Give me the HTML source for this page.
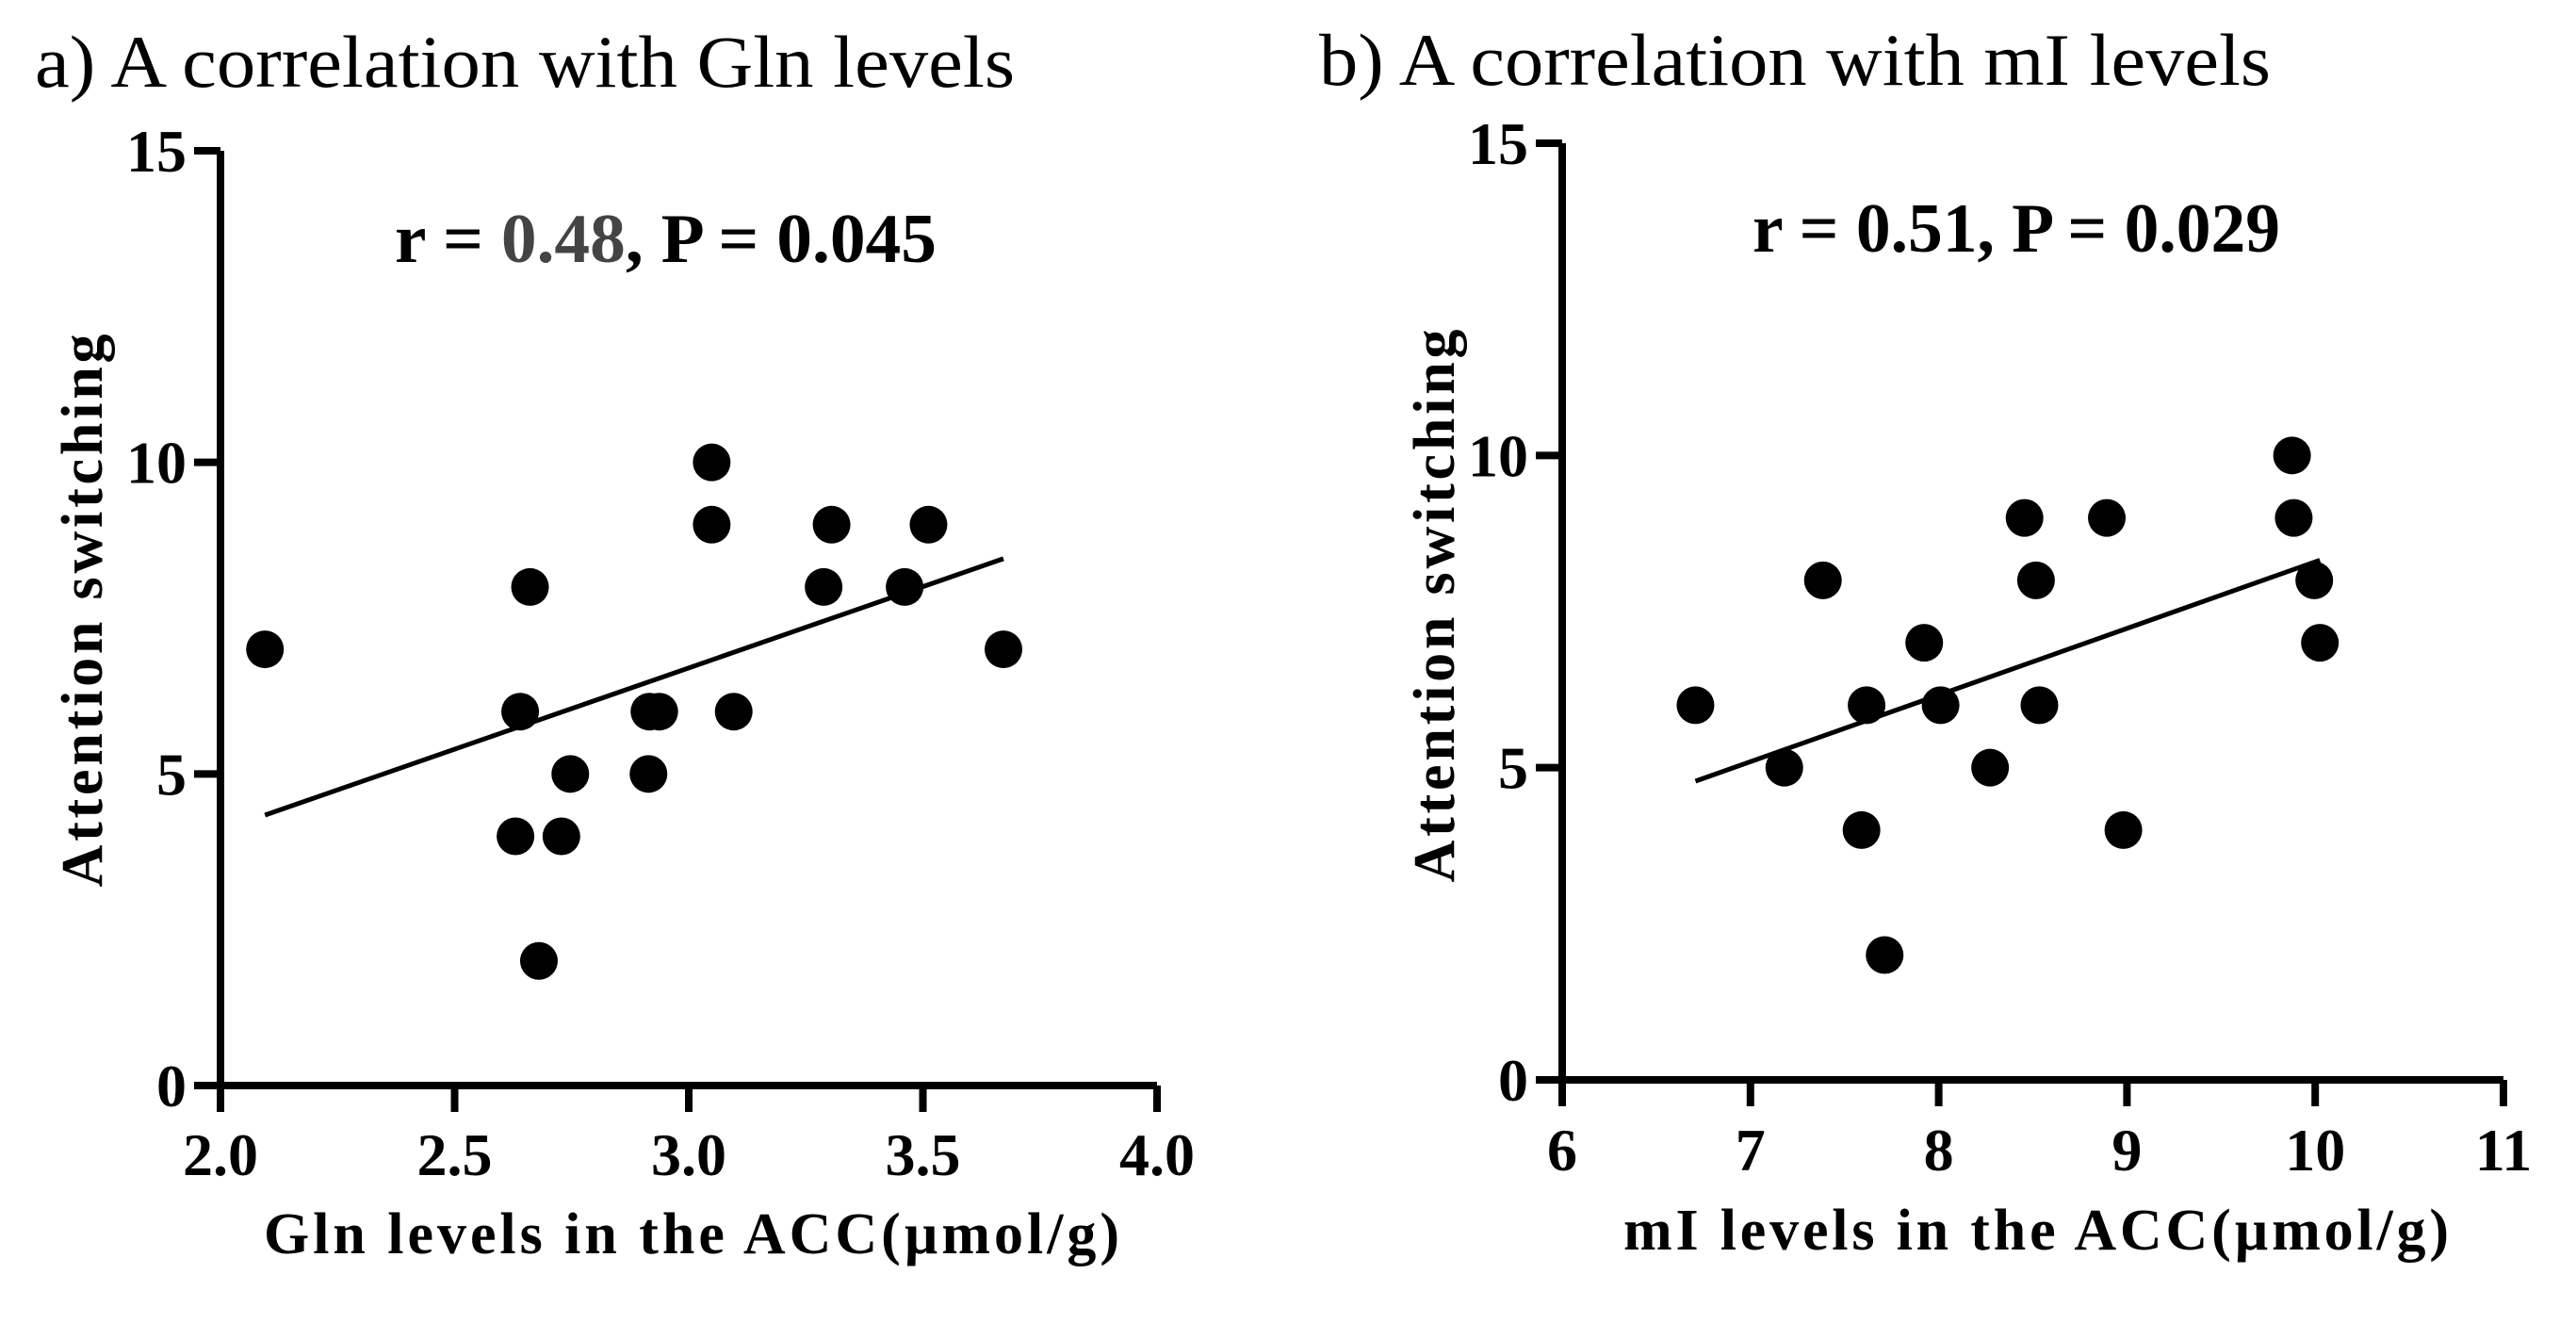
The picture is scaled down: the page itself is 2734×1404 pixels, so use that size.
<!DOCTYPE html>
<html><head><meta charset="utf-8"><style>
html,body{margin:0;padding:0;background:#fff;}
svg{display:block;font-family:"Liberation Serif",serif;}
</style></head><body>
<svg id="fig" width="2734" height="1404" viewBox="0 0 2734 1404" xmlns="http://www.w3.org/2000/svg">
<rect width="2734" height="1404" fill="#fff"/>
<g id="panelA"></g>
<g id="panelB"></g>
</svg>
<script>
const glnX = [2.095,2.661,2.640,2.630,2.728,2.747,2.680,2.914,2.916,2.937,3.049,3.049,3.096,3.288,3.305,3.461,3.512,3.672];
const glnY = [7,8,6,4,4,5,2,5,6,6,10,9,6,8,9,8,9,7];
const miX = [6.708,7.180,7.385,7.590,7.617,7.713,7.923,8.010,8.273,8.456,8.517,8.535,8.893,8.981,9.877,9.886,9.995,10.025];
const miY = [6,5,8,4,6,2,7,6,5,9,8,6,9,4,10,9,8,7];
const glnTicks = ["2.0","2.5","3.0","3.5","4.0"];
const glnTickVals = [2.0,2.5,3.0,3.5,4.0];
const miTicks = ["6","7","8","9","10","11"];
const miTickVals = [6,7,8,9,10,11];
const yTickVals = [0,5,10,15];
const yTicks = ["0","5","10","15"];

const NS="http://www.w3.org/2000/svg";
function mk(parent,tag,attrs,text){const e=document.createElementNS(NS,tag);for(const k in attrs)e.setAttribute(k,attrs[k]);if(text!==undefined)e.textContent=text;parent.appendChild(e);return e;}

function panel(g,cfg){
  const sx=v=>cfg.x0+(v-cfg.xmin)/(cfg.xmax-cfg.xmin)*(cfg.x1-cfg.x0);
  const sy=v=>cfg.y0-(v-0)/15*(cfg.y0-cfg.y1);
  // title
  const t=mk(g,'text',{x:cfg.titleX,y:cfg.titleY,'font-size':78,textLength:cfg.titleLen,lengthAdjust:'spacingAndGlyphs'},cfg.title);
  
  
  // axes
  const ax=mk(g,'path',{d:`M${cfg.x0} ${cfg.y1} V${cfg.y0} H${cfg.x1}`,stroke:'#000','stroke-width':8,fill:'none'});
  
  
  cfg.yVals.forEach((v,i)=>{
    const y=sy(v);
    const tk=mk(g,'line',{x1:cfg.x0-28,x2:cfg.x0,y1:y,y2:y,stroke:'#000','stroke-width':8});
    
    
    const lb=mk(g,'text',{x:cfg.x0-36,y:y+22,'font-size':64,'font-weight':'bold','text-anchor':'end'},cfg.yLabels[i]);
    
    
  });
  cfg.xVals.forEach((v,i)=>{
    const x=sx(v);
    const tk=mk(g,'line',{x1:x,x2:x,y1:cfg.y0,y2:cfg.y0+28,stroke:'#000','stroke-width':8});
    
    
    const lb=mk(g,'text',{x:x,y:cfg.tickBase,'font-size':64,'font-weight':'bold','text-anchor':'middle'},cfg.xLabels[i]);
    
    
  });
  // axis titles
  const xt=mk(g,'text',{x:cfg.xtX,y:cfg.xtY,'font-size':62,'font-weight':'bold',textLength:cfg.xtLen,lengthAdjust:'spacing'},cfg.xTitle);
  
  
  const yt=mk(g,'text',{x:0,y:0,'font-size':62,'font-weight':'bold','text-anchor':'middle',textLength:587,lengthAdjust:'spacing',transform:`translate(${cfg.ytX},${cfg.ytY}) rotate(-90)`},'Attention switching');
  
  
  // annotation
  const an=mk(g,'text',{x:cfg.anX,y:cfg.anY,'font-size':74,'font-weight':'bold',textLength:cfg.anLen,lengthAdjust:'spacingAndGlyphs'});
  
  
  mk(an,'tspan',{},'r = ');
  mk(an,'tspan',{fill:cfg.rColor},cfg.r);
  mk(an,'tspan',{},', P = '+cfg.p);
  // regression
  const xs=cfg.xs, ys=cfg.ys, n=xs.length;
  const mx=xs.reduce((a,b)=>a+b,0)/n, my=ys.reduce((a,b)=>a+b,0)/n;
  let sxy=0,sxx=0;for(let i=0;i<n;i++){sxy+=(xs[i]-mx)*(ys[i]-my);sxx+=(xs[i]-mx)**2;}
  const b=sxy/sxx,a=my-b*mx;
  const lo=Math.min(...xs),hi=Math.max(...xs);
  const rl=mk(g,'line',{x1:sx(lo),y1:sy(a+b*lo),x2:sx(hi),y2:sy(a+b*hi),stroke:'#000','stroke-width':5});
  
  
  for(let i=0;i<n;i++){
    const c=mk(g,'circle',{cx:sx(xs[i]),cy:sy(ys[i]),r:20,fill:'#000'});
    
    
  }
}

panel(document.getElementById('panelA'),{
  x0:234,x1:1228,y0:1152,y1:160,xmin:2,xmax:4,
  xs:glnX,ys:glnY,xVals:glnTickVals,xLabels:glnTicks,yVals:yTickVals,yLabels:yTicks,
  title:'a) A correlation with Gln levels',titleX:37,titleY:92,titleLen:1040,
  tickBase:1247,xTitle:'Gln levels in the ACC(µmol/g)',xtX:280,xtY:1330,xtLen:908,
  ytX:108,ytY:648,anX:419,anY:278,anLen:575,r:'0.48',p:'0.045',rColor:'#444'
});
panel(document.getElementById('panelB'),{
  x0:1658,x1:2657,y0:1146,y1:152,xmin:6,xmax:11,
  xs:miX,ys:miY,xVals:miTickVals,xLabels:miTicks,yVals:yTickVals,yLabels:yTicks,
  title:'b) A correlation with mI levels',titleX:1400,titleY:90,titleLen:1010,
  tickBase:1242,xTitle:'mI levels in the ACC(µmol/g)',xtX:1723,xtY:1326,xtLen:876,
  ytX:1543,ytY:643,anX:1860,anY:267,anLen:560,r:'0.51',p:'0.029',rColor:'#000'
});
</script>
</body></html>
